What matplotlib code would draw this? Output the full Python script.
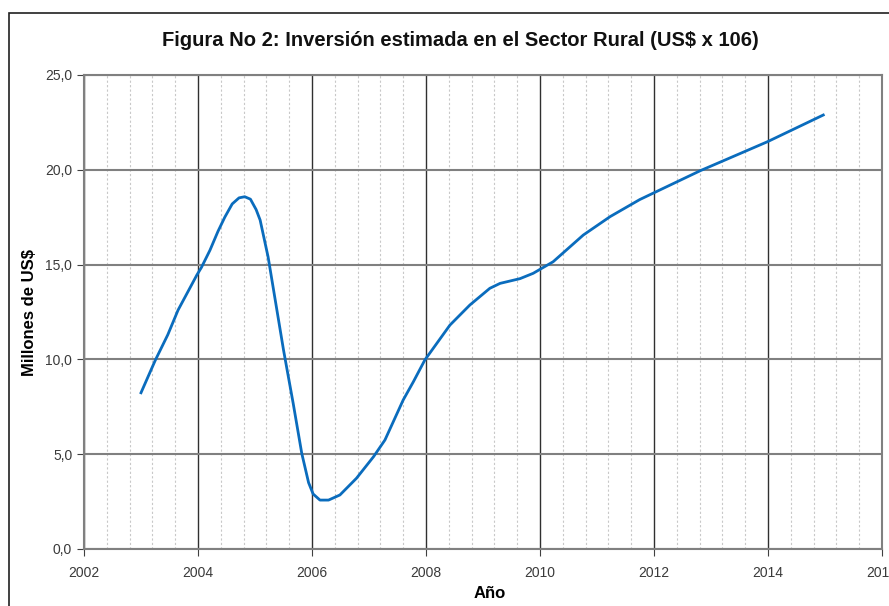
import numpy as np
import matplotlib
matplotlib.use('Agg')
import matplotlib.pyplot as plt
from matplotlib.patches import Rectangle
from matplotlib.ticker import MultipleLocator, FuncFormatter

plt.rcParams['font.family'] = ['Liberation Sans', 'DejaVu Sans']

# valores
anios = [2003.00, 2003.25, 2003.47, 2003.65, 2003.98, 2004.06, 2004.21, 2004.35,
         2004.47, 2004.60, 2004.72, 2004.82, 2004.92, 2005.02, 2005.09, 2005.23,
         2005.50, 2005.67, 2005.82, 2005.94, 2006.02, 2006.14, 2006.29, 2006.49,
         2006.78, 2007.08, 2007.28, 2007.60, 2007.78, 2007.98, 2008.42, 2008.77,
         2009.12, 2009.30, 2009.65, 2009.88, 2010.23, 2010.76, 2011.23, 2011.75,
         2012.81, 2013.99, 2014.97]
inversion = [8.24, 9.95, 11.3, 12.6, 14.45, 14.85, 15.76, 16.75,
             17.5, 18.2, 18.52, 18.58, 18.45, 17.9, 17.35, 15.4,
             10.5, 7.68, 5.05, 3.5, 2.9, 2.58, 2.58, 2.85,
             3.73, 4.87, 5.75, 7.86, 8.83, 9.97, 11.81, 12.87,
             13.75, 14.01, 14.26, 14.54, 15.15, 16.56, 17.53, 18.43,
             19.95, 21.48, 22.89]

titulo = 'Figura No 2: Inversión estimada en el Sector Rural (US$ x 106)'

fig = plt.figure(figsize=(8.89, 6.06), dpi=100)
ax = fig.add_axes([84/889, 1 - 549/606, (882-84)/889, (549-75)/606])

# marco del area del grafico (cortado a la derecha y abajo)
fig.patches.append(Rectangle((9/889, -0.05), 1.0, 1 - 13/606 + 0.05,
                             transform=fig.transFigure, fill=False,
                             edgecolor='#202020', linewidth=1.2, clip_on=False))

ax.plot(anios, inversion, color='#0a6cbd', linewidth=2, zorder=3,
        solid_joinstyle='round')

ax.set_xlim(2002, 2016)
ax.set_ylim(0, 25)
ax.xaxis.set_major_locator(MultipleLocator(2))
ax.xaxis.set_minor_locator(MultipleLocator(0.4))
ax.yaxis.set_major_locator(MultipleLocator(5))
ax.yaxis.set_major_formatter(FuncFormatter(lambda v, p: ('%.1f' % v).replace('.', ',')))

ax.grid(axis='y', which='major', color='#808080', linewidth=1.5)
ax.grid(axis='x', which='major', color='#303030', linewidth=1.0)
ax.grid(axis='x', which='minor', color='#c8c8c8', linewidth=0.8, linestyle=(0, (2, 2)))
ax.set_axisbelow(True)

for s in ax.spines.values():
    s.set_color('#808080')
    s.set_linewidth(1.5)

ax.tick_params(axis='both', which='major', direction='out', length=5,
               color='#404040', labelsize=10, labelcolor='#3a3a3a')
ax.tick_params(axis='x', which='major', pad=7)
ax.tick_params(axis='x', which='minor', length=0)

ax.set_xlabel('Año', fontsize=12, fontweight='bold')
ax.set_ylabel('Millones de US$', fontsize=12, fontweight='bold')
ax.yaxis.set_label_coords((30 - 84) / 798, 0.5)
ax.xaxis.set_label_coords((490 - 84) / 798, (549 - 593) / 474)
ax.xaxis.label.set_va('center')
ax.yaxis.label.set_va('center')

fig.text(460/889, 1 - 40/606, titulo, ha='center', va='center',
         fontsize=14.5, fontweight='bold', color='#111111')

fig.savefig('out.png', dpi=100)
